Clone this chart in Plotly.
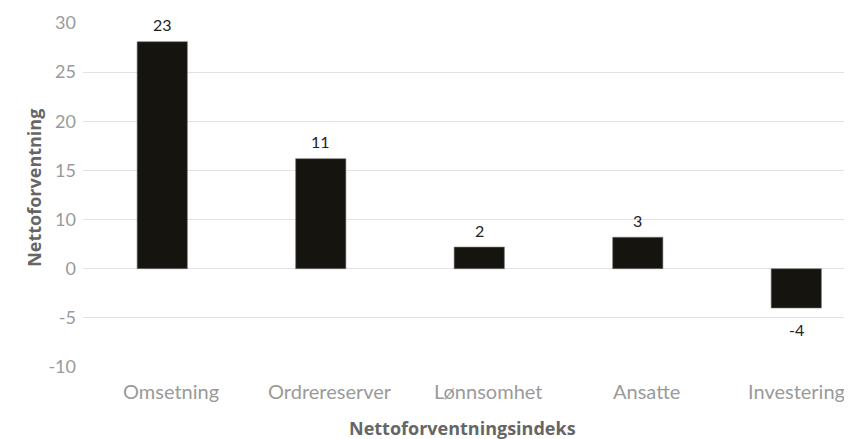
import plotly.graph_objects as go

categories = ["Omsetning", "Ordrereserver", "Lønnsomhet", "Ansatte", "Investeringer"]
values = [23.1, 11.2, 2.2, 3.2, -4.0]
bar_labels = ["23", "11", "2", "3", "-4"]
y_tickvals = [25, 20, 15, 10, 5, 0, -5, -10]
y_ticktext = ["30", "25", "20", "15", "10", "0", "-5", "-10"]
x_title = "Nettoforventningsindeks"
y_title = "Nettoforventning"

fig = go.Figure(go.Bar(
    x=categories, y=values,
    marker=dict(color="#16140e", line=dict(color="#777", width=0.6)),
    cliponaxis=False,
))

annotations = [
    dict(x=c, y=v, text=t, showarrow=False, xref="x", yref="y",
         yanchor="middle", yshift=(17 if v >= 0 else -21),
         font=dict(family="Lato", size=16, color="#222"))
    for c, v, t in zip(categories, values, bar_labels)
]
# category labels under the axis
annotations += [
    dict(x=c, y=0, text=c, showarrow=False, xref="x", yref="paper",
         xanchor="center", yanchor="top", yshift=-10, xshift=9,
         font=dict(family="Lato", size=20, color="#9a9a9a"))
    for c in categories
]
annotations += [
    dict(x=0.488, y=-0.176, xref="paper", yref="paper", text="<b>" + x_title + "</b>",
         showarrow=False, xanchor="center", yanchor="middle",
         font=dict(family="Open Sans", size=18, color="#666")),
    dict(x=-0.063, y=0.521, xref="paper", yref="paper", text="<b>" + y_title + "</b>",
         showarrow=False, xanchor="center", yanchor="middle", textangle=-90,
         font=dict(family="Open Sans", size=18, color="#666")),
]

fig.update_layout(
    width=852, height=439,
    margin=dict(l=75, r=0, t=15, b=80),
    plot_bgcolor="white", paper_bgcolor="white",
    bargap=0.683,
    showlegend=False,
    font=dict(family="Lato"),
    annotations=annotations,
    xaxis=dict(
        range=[-0.5, 4.402],
        showticklabels=False,
        showgrid=False, showline=False, ticks="",
    ),
    yaxis=dict(
        range=[-10, 25],
        tickvals=y_tickvals, ticktext=y_ticktext,
        tickfont=dict(family="Lato", size=18, color="#9a9a9a"),
        showgrid=True, gridcolor="#e2e2e2", gridwidth=1,
        zeroline=False, showline=False, ticks="",
        ticklabelstandoff=6,
    ),
)

fig.write_html("out.html")
